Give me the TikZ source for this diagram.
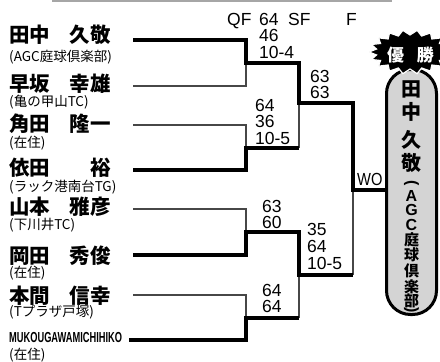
\documentclass[tikz,border=0pt]{standalone}
\usepackage{fontspec}
\usepackage{graphicx}
\setmainfont{Liberation Sans}
\newfontfamily\jp{Noto Sans CJK JP}
\begin{document}
\begin{tikzpicture}[x=1pt,y=-1pt,
  win/.style={line width=3.3pt, line join=miter, line cap=butt},
  lose/.style={line width=1.4pt, draw=black!72, line join=miter},
  fam/.style={anchor=west, inner sep=0, font=\jp\bfseries\fontsize{20.5}{20.5}\selectfont},
  giv/.style={anchor=east, inner sep=0, font=\jp\bfseries\fontsize{20.5}{20.5}\selectfont},
  club/.style={anchor=west, inner sep=0, font=\jp\fontsize{13.5}{13.5}\selectfont},
  sc/.style={anchor=base west, inner sep=0, font=\fontsize{17.5}{17.5}\selectfont},
  big/.style={inner sep=0, font=\jp\bfseries\fontsize{20}{20}\selectfont},
  sml/.style={inner sep=0, font=\jp\bfseries\fontsize{15}{15}\selectfont},
  lat/.style={inner sep=0, font=\bfseries\fontsize{16}{16}\selectfont},
]
\useasboundingbox (0,0) rectangle (440,362);
% top rule
\draw[line width=2pt, black!35] (52,1) -- (392,1);

% header
\node[sc] (hqf) at (227,25) {QF};
\node[sc] (hsf) at (288,25) {SF};
\node[sc] (hf) at (346,25) {F};

% players
\node[fam] (n1a) at (9,35) {田中}; \node[giv] (n1b) at (111,35) {久敬};
\node[club] (c1) at (9,57) {(AGC庭球倶楽部)};
\node[fam] (n2a) at (9,84) {早坂}; \node[giv] (n2b) at (111,84) {幸雄};
\node[club] (c2) at (9,102) {(亀の甲山TC)};
\node[fam] (n3a) at (9,124) {角田}; \node[giv] (n3b) at (111,124) {隆一};
\node[club] (c3) at (9,143) {(在住)};
\node[fam] (n4a) at (9,168) {依田}; \node[giv] (n4b) at (111,168) {裕};
\node[club] (c4) at (9,187) {(ラック港南台TG)};
\node[fam] (n5a) at (9,207) {山本}; \node[giv] (n5b) at (111,207) {雅彦};
\node[club] (c5) at (9,225) {(下川井TC)};
\node[fam] (n6a) at (9,256) {岡田}; \node[giv] (n6b) at (111,256) {秀俊};
\node[club] (c6) at (9,273.5) {(在住)};
\node[fam] (n7a) at (9,296) {本間}; \node[giv] (n7b) at (111,296) {信幸};
\node[club] (c7) at (9,312) {(Tプラザ戸塚)};
\node[anchor=west, inner sep=0, font=\bfseries\fontsize{14.5}{14.5}\selectfont] (n8) at (9,338) {\scalebox{0.64}[1]{MUKOUGAWAMICHIHIKO}};
\node[club] (c8) at (9,355) {(在住)};

% coordinates
\coordinate (p1s) at (133,40);  \coordinate (p1e) at (246,40);
\coordinate (p2s) at (133,86);  \coordinate (p2e) at (246,86);
\coordinate (p3s) at (133,125); \coordinate (p3e) at (246,125);
\coordinate (p4s) at (133,170); \coordinate (p4e) at (246,170);
\coordinate (p5s) at (133,209); \coordinate (p5e) at (246,209);
\coordinate (p6s) at (133,255); \coordinate (p6e) at (246,255);
\coordinate (p7s) at (133,295); \coordinate (p7e) at (246,295);
\coordinate (p8s) at (129,340); \coordinate (p8e) at (246,340);
\coordinate (q1) at (246,63);  \coordinate (q1e) at (299,63);
\coordinate (q2) at (246,148); \coordinate (q2e) at (299,148);
\coordinate (q3) at (246,232); \coordinate (q3e) at (299,232);
\coordinate (q4) at (246,318); \coordinate (q4e) at (299,318);
\coordinate (s1) at (299,103); \coordinate (s1e) at (353,103);
\coordinate (s2) at (299,275); \coordinate (s2e) at (353,275);
\coordinate (fm) at (353,190);

% champion capsule
\node[draw, line width=3pt, fill=black!17, rounded corners=24pt,
      minimum width=50pt, minimum height=245pt, inner sep=0] (champ) at (411.5,192) {};

% losers
\draw[lose] (p2s) -- (p2e) -- (q1);
\draw[lose] (p3s) -- (p3e) -- (q2);
\draw[lose] (p5s) -- (p5e) -- (q3);
\draw[lose] (p7s) -- (p7e) -- (q4);
\draw[lose] (q2e) -- (s1);
\draw[lose] (q4e) -- (s2);
\draw[lose] (s2e) -- (fm);
% winners
\draw[win] (p1s) -- (p1e) -- (q1) -- (q1e) -- (s1) -- (s1e) -- (fm) -- (fm -| champ.west);
\draw[win] (p4s) -- (p4e) -- (q2) -- (q2e);
\draw[win] (p6s) -- (p6e) -- (q3) -- (q3e) -- (s2) -- (s2e);
\draw[win] (p8s) -- (p8e) -- (q4) -- (q4e);

% scores
\node[sc] (sc1a) at (259,25) {64};
\node[sc] (sc1b) at (259,41.7) {46};
\node[sc] (sc1c) at (259,58.4) {10-4};
\node[sc] (sc2a) at (310,82) {63};
\node[sc] (sc2b) at (310,98.5) {63};
\node[sc] (sc3a) at (255,111) {64};
\node[sc] (sc3b) at (255,127.5) {36};
\node[sc] (sc3c) at (255,144) {10-5};
\node[sc] (wo) at (357,185) {\scalebox{0.84}[1]{WO}};
\node[sc] (sc5a) at (262,212) {63};
\node[sc] (sc5b) at (262,228.5) {60};
\node[sc] (sc6a) at (307,235) {35};
\node[sc] (sc6b) at (307,252) {64};
\node[sc] (sc6c) at (307,269) {10-5};
\node[sc] (sc7a) at (262,296) {64};
\node[sc] (sc7b) at (262,312.5) {64};

% burst
\filldraw[fill=black, draw=white, line width=1.2pt] plot[samples=37, domain=0:360, variable=\t]
  ({410+(41-7*mod(round(\t/10),2))*cos(\t)}, {52+(22-5*mod(round(\t/10),2))*sin(\t)}) -- cycle;
\node[inner sep=0, text=white, font=\jp\bfseries\fontsize{17}{17}\selectfont] (yusho) at (410.5,55) {優\hspace{13pt}勝};

% champion name (vertical)
\node[big] (k1) at (411.5,89) {田};
\node[big] (k2) at (411.5,112) {中};
\node[big] (k3) at (411.5,140) {久};
\node[big] (k4) at (411.5,163) {敬};
\node[lat, rotate=-90] (k5) at (411.5,183.5) {(};
\node[lat] (k6) at (411.5,195.5) {A};
\node[lat] (k7) at (411.5,210) {G};
\node[lat] (k8) at (411.5,224.5) {C};
\node[sml] (k9) at (411.5,239.5) {庭};
\node[sml] (k10) at (411.5,255) {球};
\node[sml] (k11) at (411.5,271) {倶};
\node[sml] (k12) at (411.5,286.5) {楽};
\node[sml] (k13) at (411.5,300.5) {部};
\node[lat, rotate=-90] (k14) at (411.5,310.5) {)};
\end{tikzpicture}
\end{document}
